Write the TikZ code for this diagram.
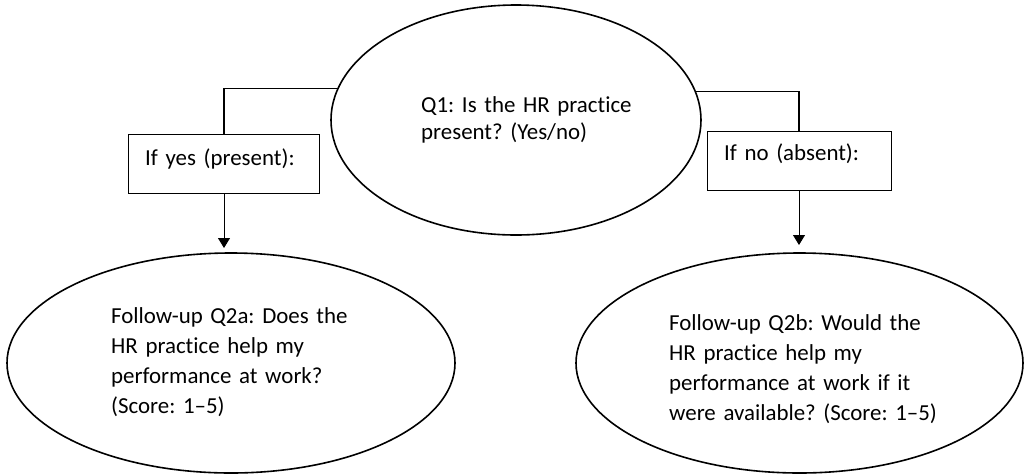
\documentclass[tikz,border=0pt]{standalone}
\usepackage{fontspec}
\setmainfont{Carlito}[Ligatures={TeX,NoCommon}]
\frenchspacing
\usetikzlibrary{arrows.meta,shapes.geometric}
\tikzset{
  ell/.style={ellipse, draw, line width=1.6pt, inner sep=0pt, outer sep=0pt},
  boxs/.style={rectangle, draw, line width=0.8pt, inner sep=0pt, outer sep=0pt},
  elbow/.style={line width=1.6pt},
  arr/.style={line width=0.9pt, -{Triangle[width=12pt,length=10pt]}},
  txt/.style={font=\fontsize{22.9}{30}\selectfont, anchor=base west, inner sep=0pt, text width=300pt, align=left}
}
\begin{document}
\begin{tikzpicture}[x=1pt,y=-1pt]
\useasboundingbox (0,0) rectangle (1029,475);
% shapes
\node[ell, minimum width=370pt, minimum height=230pt] (q1) at (516,120) {};
\node[boxs, minimum width=191pt, minimum height=59pt] (yes) at (224,163.5) {};
\node[boxs, minimum width=184pt, minimum height=59pt] (no) at (799,160.5) {};
\node[ell, minimum width=448pt, minimum height=220pt] (q2a) at (231,363) {};
\node[ell, minimum width=447pt, minimum height=220pt] (q2b) at (799.5,363) {};
% texts
\node[txt, font=\fontsize{22.9}{27}\selectfont] (q1t) at (421,112) {Q1: Is the HR practice\\present? (Yes/no)};
\node[txt] (yest) at (145,165) {If yes (present):};
\node[txt] (not) at (724,160) {If no (absent):};
\node[txt] (q2at) at (111,323) {Follow-up Q2a: Does the\\HR practice help my\\performance at work?\\(Score: 1–5)};
\node[txt] (q2bt) at (669,330) {Follow-up Q2b: Would the\\HR practice help my\\performance at work if it\\were available? (Score: 1–5)};
% connectors
\draw[elbow] (yes.north) |- (q1.170.5);
\draw[elbow] (no.north) |- (q1.9.5);
\draw[arr, shorten >=5pt] (yes.south) -- (yes.south |- q2a.north);
\draw[arr, shorten >=8pt] (no.south) -- (no.south |- q2b.north);
\end{tikzpicture}
\end{document}
